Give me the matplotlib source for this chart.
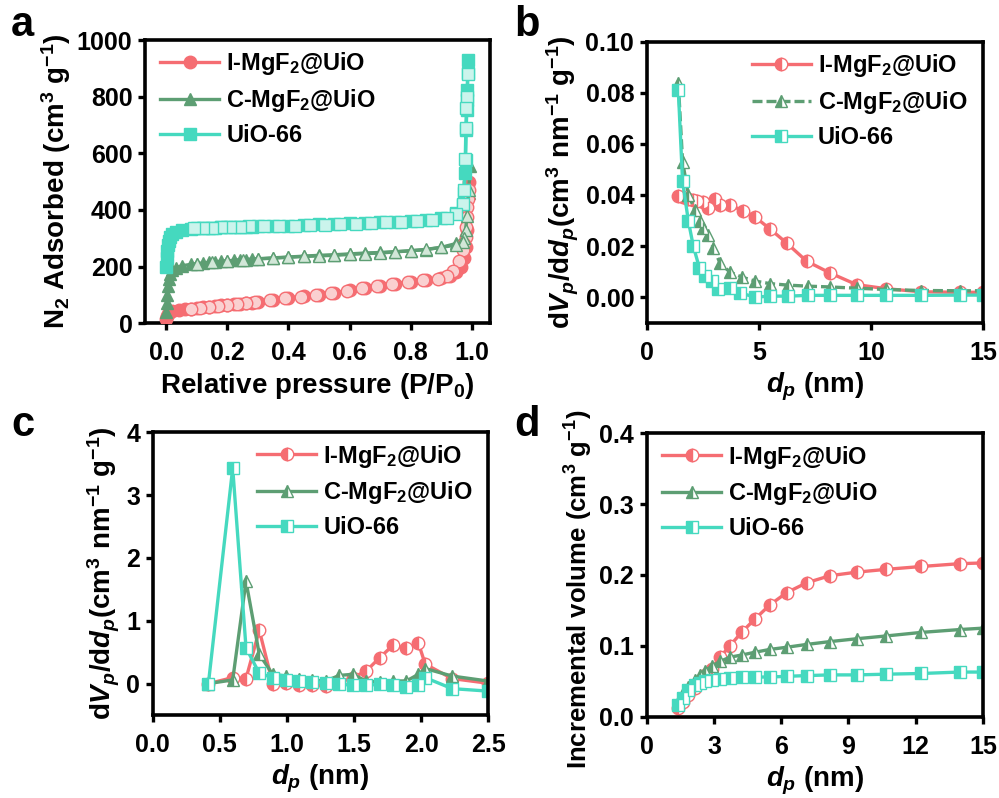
import matplotlib
matplotlib.use("Agg")
import matplotlib.pyplot as plt
import numpy as np

plt.rcParams['font.family'] = ['Liberation Sans', 'DejaVu Sans']
plt.rcParams['font.weight'] = 'bold'
plt.rcParams['axes.labelweight'] = 'bold'
plt.rcParams['mathtext.fontset'] = 'custom'
plt.rcParams['mathtext.rm'] = 'Liberation Sans:bold'
plt.rcParams['mathtext.bf'] = 'Liberation Sans:bold'
plt.rcParams['mathtext.it'] = 'Liberation Sans:bold:italic'
plt.rcParams['mathtext.sf'] = 'Liberation Sans:bold'
plt.rcParams['axes.unicode_minus'] = False

labels = ['I-MgF$_2$@UiO', 'C-MgF$_2$@UiO', 'UiO-66']
colors = ['#F56D72', '#5D9E73', '#45D9BF']
light = ['#FAD0D0', '#D2E7D8', '#CBF4EC']
markers = ['o', '^', 's']

# ---------------- panel a: N2 isotherms ----------------
a_red_ads_x = [0.0, 0.002, 0.005, 0.01, 0.02, 0.04, 0.06, 0.08, 0.10, 0.12, 0.14, 0.16, 0.18, 0.20, 0.22,
               0.24, 0.26, 0.28, 0.30, 0.35, 0.40, 0.45, 0.50, 0.55, 0.60, 0.65, 0.70, 0.75, 0.80, 0.85,
               0.90, 0.93, 0.95, 0.965, 0.975, 0.98, 0.985, 0.99]
a_red_ads_y = [15, 25, 32, 38, 42, 46, 49, 52, 54, 57, 59, 61, 63, 65, 67, 69, 71, 73, 75, 82, 89, 95, 101,
               108, 116, 124, 132, 140, 147, 153, 160, 168, 180, 200, 230, 270, 330, 500]
a_red_des_x = [0.99, 0.988, 0.986, 0.984, 0.982, 0.98, 0.975, 0.97, 0.96, 0.94, 0.92, 0.89, 0.84, 0.79,
               0.74, 0.69, 0.64, 0.59, 0.54, 0.49, 0.44, 0.39, 0.34, 0.29, 0.26, 0.23, 0.20, 0.17, 0.14,
               0.11, 0.08]
a_red_des_y = [470, 440, 410, 375, 340, 305, 280, 258, 220, 185, 168, 158, 152, 146, 140, 133, 124, 114,
               106, 100, 94, 90, 82, 74, 70, 67, 64, 61, 58, 55, 50]

a_grn_ads_x = [0.0, 0.001, 0.002, 0.004, 0.007, 0.012, 0.02, 0.03, 0.05, 0.08, 0.10, 0.12, 0.14, 0.16,
               0.18, 0.20, 0.22, 0.24, 0.26, 0.28, 0.30, 0.35, 0.40, 0.45, 0.50, 0.55, 0.60, 0.65, 0.70,
               0.75, 0.80, 0.85, 0.90, 0.95, 0.97, 0.98, 0.99, 0.995]
a_grn_ads_y = [40, 70, 100, 130, 155, 175, 188, 196, 203, 208, 211, 213, 215, 217, 219, 221, 222, 224,
               225, 226, 228, 231, 234, 237, 240, 242, 245, 248, 250, 253, 256, 260, 268, 282, 300, 360,
               460, 555]
a_grn_des_x = [0.99, 0.985, 0.98, 0.975, 0.97, 0.95, 0.90, 0.85, 0.80, 0.75, 0.70, 0.65, 0.60, 0.55,
               0.50, 0.45, 0.40, 0.35, 0.30, 0.25, 0.20, 0.15, 0.10]
a_grn_des_y = [470, 380, 330, 300, 288, 276, 268, 261, 256, 252, 248, 246, 243, 240, 238, 236, 233, 230,
               227, 224, 220, 215, 208]

a_cyn_ads_x = [0.0, 0.001, 0.002, 0.004, 0.007, 0.012, 0.02, 0.03, 0.05, 0.08, 0.10, 0.12, 0.14, 0.16,
               0.18, 0.20, 0.22, 0.24, 0.26, 0.28, 0.30, 0.35, 0.40, 0.45, 0.50, 0.55, 0.60, 0.65, 0.70,
               0.75, 0.80, 0.85, 0.90, 0.95, 0.97, 0.975, 0.978, 0.98, 0.982, 0.984, 0.985, 0.986,
               0.987, 0.988]
a_cyn_ads_y = [200, 230, 255, 275, 290, 305, 315, 322, 328, 333, 335, 336, 337, 338, 339, 340, 340, 341,
               341, 341, 342, 344, 345, 346, 349, 351, 353, 355, 356, 359, 361, 365, 371, 388, 418, 459,
               529, 576, 682, 753, 788, 824, 883, 929]
a_cyn_des_x = [0.987, 0.985, 0.983, 0.981, 0.979, 0.975, 0.97, 0.95, 0.92, 0.87, 0.82, 0.77, 0.72, 0.67,
               0.62, 0.57, 0.52, 0.47, 0.42, 0.37, 0.32, 0.27, 0.24, 0.21, 0.18, 0.15, 0.12, 0.09]
a_cyn_des_y = [880, 800, 760, 690, 580, 470, 420, 385, 372, 364, 360, 358, 356, 354, 352, 350, 348, 347,
               345, 344, 343, 342, 341, 340, 339, 338, 337, 335]

# ---------------- panel b: PSD (meso) ----------------
b_red_x = [1.41, 1.63, 1.86, 2.08, 2.23, 2.52, 2.75, 3.04, 3.27, 3.71, 4.31, 4.83, 5.50, 6.24, 7.13,
           8.17, 9.36, 10.69, 12.25, 13.96, 15.0]
b_red_y = [0.0397, 0.0392, 0.0385, 0.0380, 0.0375, 0.0372, 0.0349, 0.0385, 0.0362, 0.0359, 0.0339,
           0.0314, 0.0267, 0.0212, 0.0141, 0.0095, 0.0049, 0.0033, 0.0021, 0.0019, 0.0019]
b_grn_x = [1.41, 1.60, 1.86, 2.15, 2.38, 2.52, 2.75, 2.97, 3.27, 3.71, 4.23, 4.83, 5.50, 6.31, 7.20,
           8.17, 9.36, 10.69, 12.25, 13.96, 15.0]
b_grn_y = [0.0837, 0.0531, 0.0400, 0.0342, 0.0297, 0.0270, 0.0245, 0.0193, 0.0134, 0.0098, 0.0079,
           0.0063, 0.0053, 0.0047, 0.0043, 0.0040, 0.0035, 0.0030, 0.0026, 0.0025, 0.0025]
b_cyn_x = [1.41, 1.60, 1.86, 2.08, 2.35, 2.60, 2.90, 3.19, 3.71, 4.16, 4.83, 5.50, 6.31, 7.20, 8.17,
           9.36, 10.69, 12.25, 13.96, 15.0]
b_cyn_y = [0.0811, 0.0453, 0.0297, 0.0199, 0.0115, 0.0082, 0.0063, 0.0030, 0.0036, 0.0017, 0.0000,
           0.0004, 0.0004, 0.0007, 0.0007, 0.0007, 0.0007, 0.0007, 0.0008, 0.0008]

# ---------------- panel c: PSD (micro) ----------------
c_x = [0.415, 0.596, 0.695, 0.794, 0.894, 0.993, 1.09, 1.19, 1.29, 1.39, 1.49, 1.59, 1.69, 1.79,
       1.89, 1.98, 2.03, 2.23, 2.5]
c_red_y = [0.0, 0.095, 0.079, 0.85, 0.0, 0.016, -0.026, -0.02, -0.037, 0.016, 0.095, 0.20, 0.41, 0.61,
           0.56, 0.64, 0.31, 0.08, 0.005]
c_grn_y = [0.0, 0.058, 1.63, 0.466, 0.148, 0.12, 0.069, 0.053, 0.042, 0.13, 0.148, 0.04, 0.026, 0.042,
           0.042, 0.148, 0.24, 0.12, 0.04]
c_cyn_y = [0.0, 3.43, 0.571, 0.164, 0.095, 0.058, 0.04, 0.026, 0.016, -0.01, -0.026, -0.03, -0.01,
           -0.02, -0.05, -0.03, 0.095, -0.08, -0.12]

# ---------------- panel d: cumulative volume ----------------
d_x = [1.41, 1.63, 1.86, 2.15, 2.38, 2.60, 2.90, 3.27, 3.71, 4.23, 4.83, 5.50, 6.24, 7.13, 8.17, 9.36,
       10.69, 12.25, 13.96, 15.0]
d_red_y = [0.0118, 0.021, 0.031, 0.040, 0.049, 0.059, 0.068, 0.084, 0.100, 0.119, 0.138, 0.158, 0.175,
           0.189, 0.199, 0.204, 0.208, 0.212, 0.216, 0.217]
d_grn_y = [0.021, 0.033, 0.042, 0.052, 0.059, 0.065, 0.071, 0.078, 0.084, 0.087, 0.091, 0.095, 0.098,
           0.102, 0.106, 0.110, 0.114, 0.119, 0.123, 0.125]
d_cyn_y = [0.016, 0.026, 0.038, 0.045, 0.048, 0.050, 0.052, 0.053, 0.054, 0.056, 0.056, 0.056, 0.057,
           0.058, 0.059, 0.059, 0.060, 0.061, 0.063, 0.063]

fig = plt.figure(figsize=(9.99, 7.98), dpi=100)
W, H = 999.0, 798.0


def ax_at(l, t, r, b):
    return fig.add_axes([l / W, 1 - b / H, (r - l) / W, (b - t) / H])


axA = ax_at(145, 40, 490, 323.3)
axB = ax_at(646.7, 41.7, 983, 322.7)
axC = ax_at(152.7, 432.3, 488.3, 715)
axD = ax_at(646.7, 433.3, 983, 716.7)

LW = 2.4
MS = 9
TICKFS = 18
LABFS = 20
LEGFS = 17

for ax in (axA, axB, axC, axD):
    for s in ax.spines.values():
        s.set_linewidth(2.6)
    ax.tick_params(direction='out', length=5, width=2.4, labelsize=TICKFS)
    ax.tick_params(axis='x', pad=8)
    ax.tick_params(axis='y', pad=4)

LEG = dict(frameon=False, handlelength=2.5, labelspacing=0.42, handletextpad=0.3,
           borderaxespad=0.25, prop={'weight': 'bold', 'size': LEGFS})

# panel a
ads = [(a_red_ads_x, a_red_ads_y), (a_grn_ads_x, a_grn_ads_y), (a_cyn_ads_x, a_cyn_ads_y)]
des = [(a_red_des_x, a_red_des_y), (a_grn_des_x, a_grn_des_y), (a_cyn_des_x, a_cyn_des_y)]
for i in range(3):
    axA.plot(ads[i][0], ads[i][1], color=colors[i], lw=LW, marker=markers[i], ms=MS,
             mfc=colors[i], mec=colors[i], label=labels[i], zorder=3)
    axA.plot(des[i][0], des[i][1], color=colors[i], lw=LW, marker=markers[i], ms=MS,
             mfc=light[i], mec=colors[i], mew=1.0, zorder=4)
axA.set_xlim(-0.07, 1.06)
axA.set_ylim(0, 1000)
axA.set_xticks([0.0, 0.2, 0.4, 0.6, 0.8, 1.0])
axA.set_xticklabels(['0.0', '0.2', '0.4', '0.6', '0.8', '1.0'])
axA.set_yticks([0, 200, 400, 600, 800, 1000])
axA.set_xlabel('Relative pressure (P/P$_0$)', fontsize=LABFS, labelpad=4)
axA.set_ylabel('N$_2$ Adsorbed (cm$^3$ g$^{-1}$)', fontsize=LABFS, labelpad=3)
axA.legend(loc='upper left', bbox_to_anchor=(0.0, 1.018), **LEG)


def half_plot(ax, x, y, i, ls='-'):
    ax.plot(x, y, color=colors[i], lw=LW, ls=ls, marker=markers[i], ms=MS, fillstyle='left',
            mfc=colors[i], mfcalt='white', mec=colors[i], mew=1.0, label=labels[i])


# panel b
half_plot(axB, b_red_x, b_red_y, 0)
half_plot(axB, b_grn_x, b_grn_y, 1, ls=(0, (3, 1.2)))
half_plot(axB, b_cyn_x, b_cyn_y, 2)
axB.set_xlim(0, 15)
axB.set_ylim(-0.01, 0.10)
axB.set_xticks([0, 5, 10, 15])
axB.set_yticks([0.0, 0.02, 0.04, 0.06, 0.08, 0.10])
axB.set_yticklabels(['0.00', '0.02', '0.04', '0.06', '0.08', '0.10'])
axB.set_xlabel('$d_p$ (nm)', fontsize=LABFS, labelpad=4)
axB.set_ylabel('d$V_p$/d$d_p$(cm$^3$ nm$^{-1}$ g$^{-1}$)', fontsize=LABFS, labelpad=3)
axB.legend(loc='upper right', bbox_to_anchor=(1.0, 1.018), **LEG)

# panel c
half_plot(axC, c_x, c_red_y, 0)
half_plot(axC, c_x, c_grn_y, 1)
half_plot(axC, c_x, c_cyn_y, 2)
axC.set_xlim(0, 2.5)
axC.set_ylim(-0.5, 4)
axC.set_xticks([0.0, 0.5, 1.0, 1.5, 2.0, 2.5])
axC.set_xticklabels(['0.0', '0.5', '1.0', '1.5', '2.0', '2.5'])
axC.set_yticks([0, 1, 2, 3, 4])
axC.set_xlabel('$d_p$ (nm)', fontsize=LABFS, labelpad=4)
axC.set_ylabel('d$V_p$/d$d_p$(cm$^3$ nm$^{-1}$ g$^{-1}$)', fontsize=LABFS, labelpad=3)
axC.legend(loc='upper right', bbox_to_anchor=(1.0, 1.018), **LEG)

# panel d
half_plot(axD, d_x, d_red_y, 0)
half_plot(axD, d_x, d_grn_y, 1)
half_plot(axD, d_x, d_cyn_y, 2)
axD.set_xlim(0, 15)
axD.set_ylim(0, 0.4)
axD.set_xticks([0, 3, 6, 9, 12, 15])
axD.set_yticks([0.0, 0.1, 0.2, 0.3, 0.4])
axD.set_yticklabels(['0.0', '0.1', '0.2', '0.3', '0.4'])
axD.set_xlabel('$d_p$ (nm)', fontsize=LABFS, labelpad=4)
axD.set_ylabel('Incremental volume (cm$^3$ g$^{-1}$)', fontsize=18.5, labelpad=3)
axD.yaxis.set_label_coords(-0.155, 0.45)
axD.legend(loc='upper left', bbox_to_anchor=(0.0, 1.018), **LEG)

for ax in (axA, axB, axC, axD):
    for lab in ax.get_xticklabels() + ax.get_yticklabels():
        lab.set_fontweight('bold')
        lab.set_fontsize(TICKFS)

for txt, x, y in [('a', 11, 36), ('b', 514, 36), ('c', 11, 436), ('d', 514, 436)]:
    fig.text(x / W, 1 - y / H, txt, fontsize=30, fontweight='bold', ha='left', va='baseline')

fig.savefig('out.png', dpi=100)
